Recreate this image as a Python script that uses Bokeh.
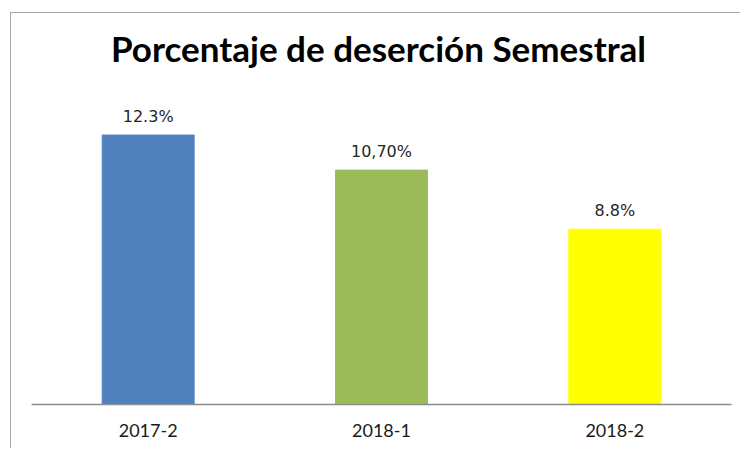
from bokeh.plotting import figure
from bokeh.models import ColumnDataSource, FactorRange, Range1d, LabelSet, Label
from bokeh.core.properties import value
from bokeh.embed import file_html
from bokeh.resources import INLINE

categories = ["2017-2", "2018-1", "2018-2"]
values = [12.3, 10.7, 8.0]
value_labels = ["12.3%", "10,70%", "8.8%"]
colors = ["#4F81BD", "#9BBB59", "#FFFF00"]
title_text = "Porcentaje de deserción Semestral"
y_top = 17.85

src = ColumnDataSource(dict(cat=categories, val=values, lab=value_labels, col=colors))

x_range = FactorRange(*categories, range_padding=0)
p = figure(x_range=x_range,
           y_range=Range1d(0, y_top),
           width=730, height=436, output_backend="svg", toolbar_location=None,
           min_border_left=20, min_border_right=10, min_border_top=0, min_border_bottom=45)
p.margin = (12, 0, 0, 10)
p.styles = {"border-left": "1px solid #a6a6a6", "border-top": "1px solid #a6a6a6"}
p.title.text = ""

p.vbar(x="cat", top="val", width=0.394, fill_color="col", line_color="col", source=src)

labels = LabelSet(x="cat", y="val", text="lab", source=src, y_offset=13,
                  text_align="center", text_baseline="alphabetic",
                  text_font=value("DejaVu Sans"), text_font_size="16px", text_color="#262626")
p.add_layout(labels)

# centre of the plot's category axis (synthetic coordinate of the middle category)
x_mid = len(categories) / 2
title = Label(x=x_mid, y=y_top, x_offset=-3, y_offset=-34,
              text=title_text, text_align="center", text_baseline="alphabetic",
              text_font="Lato", text_font_size="35px", text_font_style="bold",
              text_color="#000000")
p.add_layout(title)

p.yaxis.visible = False
p.xgrid.visible = False
p.ygrid.visible = False
p.outline_line_color = None
p.xaxis.axis_line_color = "#8c8c8c"
p.xaxis.axis_line_width = 1.5
p.xaxis.major_tick_line_color = None
p.xaxis.minor_tick_line_color = None
p.xaxis.major_tick_out = 0
p.xaxis.major_label_standoff = 19
p.xaxis.major_label_text_font = "Lato"
p.xaxis.major_label_text_font_size = "18px"
p.xaxis.major_label_text_color = "#1a1a1a"

open("out.html", "w").write(file_html(p, INLINE))
